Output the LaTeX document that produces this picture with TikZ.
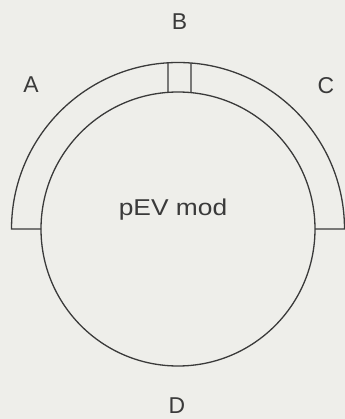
\documentclass[tikz,border=0pt]{standalone}
\usepackage{fontspec}
\setmainfont{Liberation Sans}
\usetikzlibrary{calc}
\definecolor{bgc}{HTML}{EEEEEA}
\definecolor{ink}{HTML}{3A3A3A}
\begin{document}
\begin{tikzpicture}[x=1bp,y=1bp,
  line/.style={draw=ink,line width=1.3bp},
  lbl/.style={text=ink,font=\fontsize{23}{23}\selectfont,inner sep=0pt,anchor=center}]
\fill[bgc] (0,0) rectangle (345,419);
\useasboundingbox (0,0) rectangle (345,419);
\coordinate (c) at (178,190);
% inner circle
\draw[line] (c) circle[radius=137];
% outer arc
\coordinate (oL) at (11.5,190);
\coordinate (oR) at (344.5,190);
\coordinate (iL) at (41,190);
\coordinate (iR) at (315,190);
\draw[line] (iL) -- (oL) arc[start angle=180,end angle=0,radius=166.5] -- (iR);
% B box
\coordinate (b1i) at ($(c)+(94.19:137)$);
\coordinate (b1o) at ($(c)+(93.44:166.5)$);
\coordinate (b2i) at ($(c)+(84.56:137)$);
\coordinate (b2o) at ($(c)+(85.52:166.5)$);
\draw[line] (b1i) -- (b1o);
\draw[line] (b2i) -- (b2o);
\node[lbl] (A) at (31,334) {A};
\node[lbl] (B) at (179.5,397) {B};
\node[lbl] (C) at (326,333) {C};
\node[lbl] (D) at (177,13) {D};
\node[lbl,xscale=1.15] (p) at (173,209) {pEV mod};
\end{tikzpicture}
\end{document}
